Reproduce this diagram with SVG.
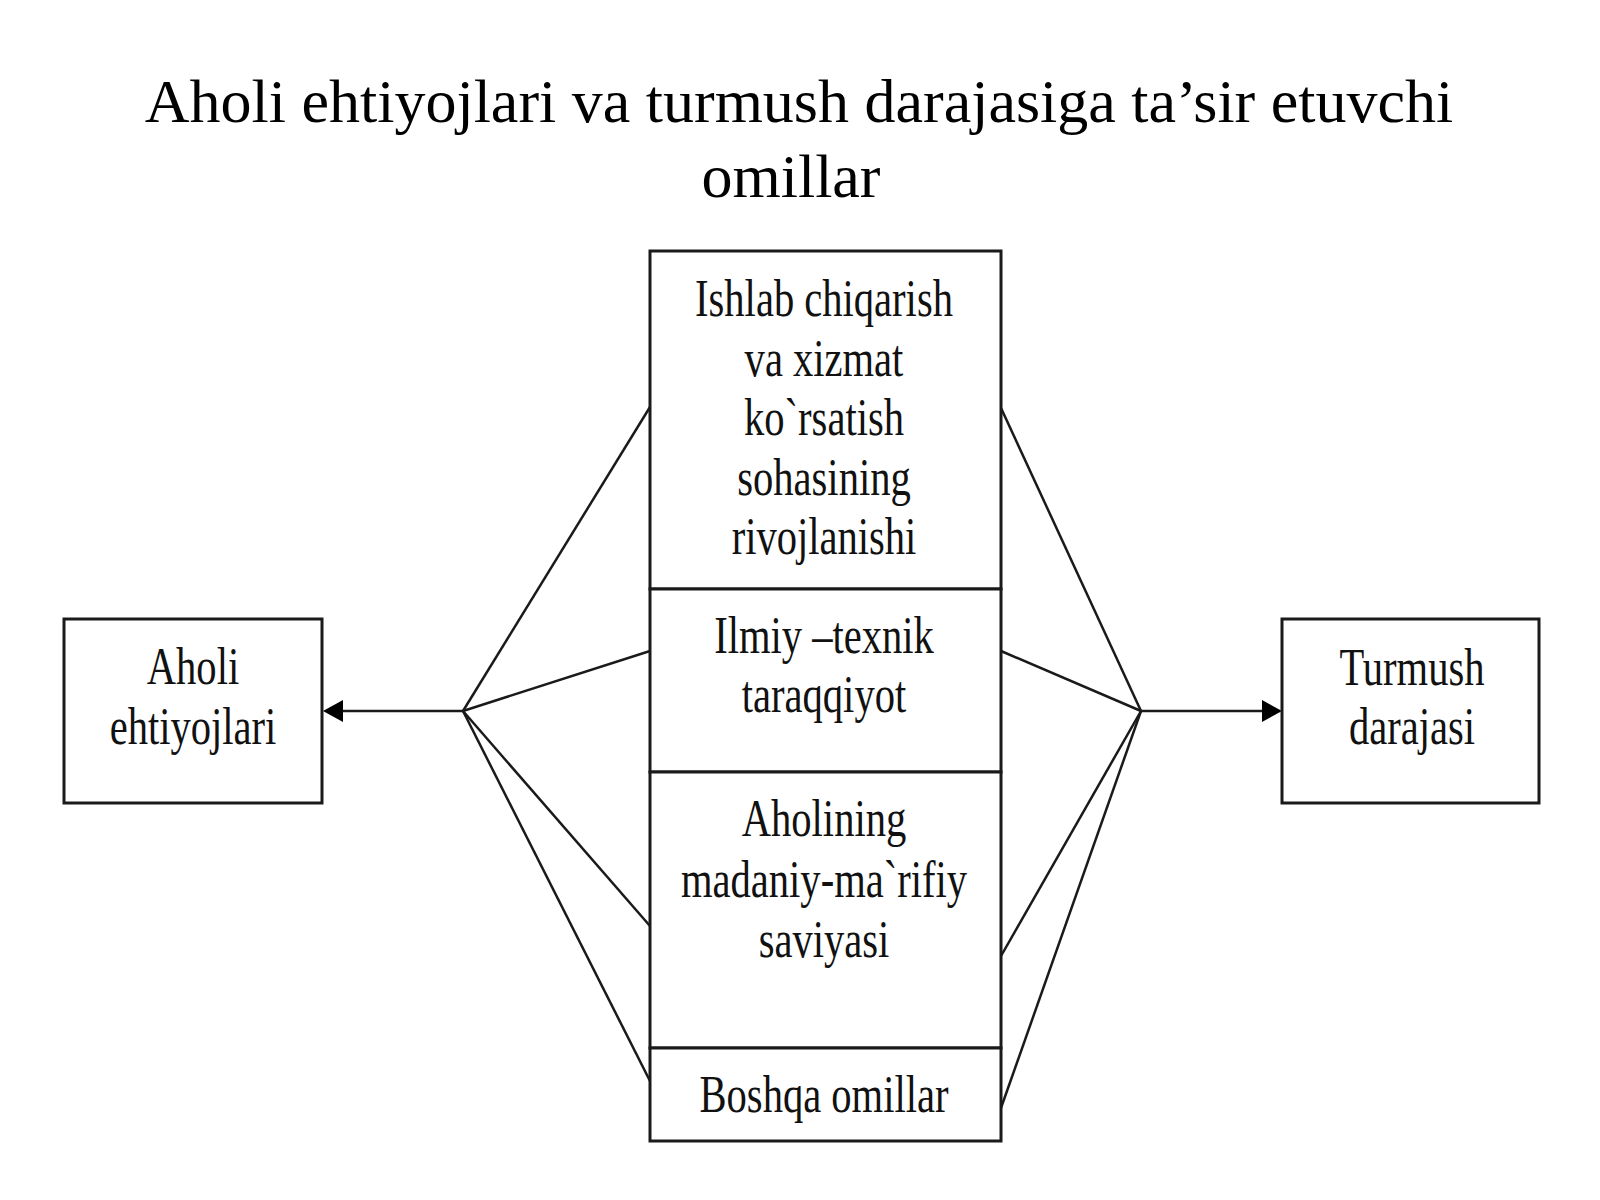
<svg xmlns="http://www.w3.org/2000/svg" width="1600" height="1200" viewBox="0 0 1600 1200">
  <defs>
    <style>
      .box { fill: #ffffff; stroke: #1a1a1a; stroke-width: 3; }
      .conn { stroke: #1a1a1a; stroke-width: 2.5; fill: none; }
      .title { font-family: "Liberation Serif", "Times New Roman", serif; font-size: 62px; fill: #000000; text-anchor: middle; }
      .lbl { font-family: "Liberation Serif", "Times New Roman", serif; font-size: 52px; fill: #111111; text-anchor: middle; }
    </style>
    <marker id="arrow" markerUnits="userSpaceOnUse" markerWidth="20" markerHeight="22" viewBox="0 0 20 22" refX="15" refY="11" orient="auto">
      <path d="M0,0 L20,11 L0,22 Z" fill="#000000"/>
    </marker>
  </defs>
  <rect x="0" y="0" width="1600" height="1200" fill="#ffffff"/>

  <g id="title">
    <text class="title" x="799" y="122">Aholi ehtiyojlari va turmush darajasiga ta’sir etuvchi</text>
    <text class="title" x="791" y="197">omillar</text>
  </g>

  <g id="connectors">
    <line class="conn" x1="463" y1="711" x2="328" y2="711" marker-end="url(#arrow)"/>
    <line class="conn" x1="463" y1="711" x2="650" y2="407"/>
    <line class="conn" x1="463" y1="711" x2="650" y2="651"/>
    <line class="conn" x1="463" y1="711" x2="650" y2="926"/>
    <line class="conn" x1="463" y1="711" x2="650" y2="1081"/>
    <line class="conn" x1="1141" y1="711" x2="1277" y2="711" marker-end="url(#arrow)"/>
    <line class="conn" x1="1141" y1="711" x2="1001" y2="408"/>
    <line class="conn" x1="1141" y1="711" x2="1001" y2="651"/>
    <line class="conn" x1="1141" y1="711" x2="1001" y2="956"/>
    <line class="conn" x1="1141" y1="711" x2="1001" y2="1108"/>
  </g>

  <g id="node-aholi-ehtiyojlari">
    <rect class="box" x="64" y="619" width="258" height="184"/>
    <g transform="translate(193 0) scale(0.78 1)">
      <text class="lbl" x="0" y="684">Aholi</text>
      <text class="lbl" x="0" y="744">ehtiyojlari</text>
    </g>
  </g>

  <g id="node-turmush-darajasi">
    <rect class="box" x="1282" y="619" width="257" height="184"/>
    <g transform="translate(1412 0) scale(0.78 1)">
      <text class="lbl" x="0" y="685">Turmush</text>
      <text class="lbl" x="0" y="744">darajasi</text>
    </g>
  </g>

  <g id="node-ishlab-chiqarish">
    <rect class="box" x="650" y="251" width="351" height="338"/>
    <g transform="translate(824 0) scale(0.78 1)">
      <text class="lbl" x="0" y="316">Ishlab chiqarish</text>
      <text class="lbl" x="0" y="376">va xizmat</text>
      <text class="lbl" x="0" y="435">ko`rsatish</text>
      <text class="lbl" x="0" y="495">sohasining</text>
      <text class="lbl" x="0" y="554">rivojlanishi</text>
    </g>
  </g>

  <g id="node-ilmiy-texnik">
    <rect class="box" x="650" y="589" width="351" height="183"/>
    <g transform="translate(824 0) scale(0.78 1)">
      <text class="lbl" x="0" y="653">Ilmiy –texnik</text>
      <text class="lbl" x="0" y="712">taraqqiyot</text>
    </g>
  </g>

  <g id="node-madaniy">
    <rect class="box" x="650" y="772" width="351" height="276"/>
    <g transform="translate(824 0) scale(0.78 1)">
      <text class="lbl" x="0" y="836">Aholining</text>
      <text class="lbl" x="0" y="897">madaniy-ma`rifiy</text>
      <text class="lbl" x="0" y="957">saviyasi</text>
    </g>
  </g>

  <g id="node-boshqa">
    <rect class="box" x="650" y="1048" width="351" height="93"/>
    <g transform="translate(824 0) scale(0.78 1)">
      <text class="lbl" x="0" y="1112">Boshqa omillar</text>
    </g>
  </g>
</svg>
